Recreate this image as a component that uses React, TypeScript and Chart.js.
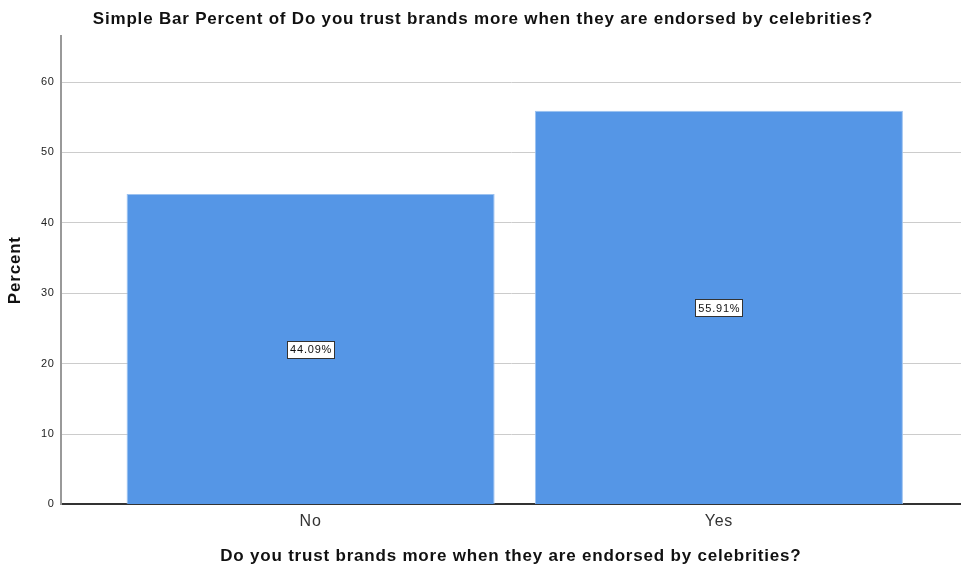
import React, { useEffect, useRef } from "react";
import { Chart, registerables } from "chart.js";

Chart.register(...registerables);

const categories = ["No", "Yes"];
const percents = [44.09, 55.91];
const percentLabels = ["44.09%", "55.91%"];
const yTicks = [0, 10, 20, 30, 40, 50, 60];

const FONT = "Arial, 'Liberation Sans', sans-serif";
const SPACING = "0.8px";

const spacingPlugin = {
  id: "letterSpacing",
  beforeUpdate(chart: any) {
    (chart.ctx as any).letterSpacing = SPACING;
  },
  beforeLayout(chart: any) {
    (chart.ctx as any).letterSpacing = SPACING;
  },
  beforeDraw(chart: any) {
    (chart.ctx as any).letterSpacing = SPACING;
  },
};

const labelPlugin = {
  id: "boxLabels",
  afterDatasetsDraw(chart: any) {
    const { ctx } = chart;
    const meta = chart.getDatasetMeta(0);
    const yScale = chart.scales.y;
    ctx.save();
    (ctx as any).letterSpacing = SPACING;
    ctx.font = `11px ${FONT}`;
    ctx.textAlign = "center";
    ctx.textBaseline = "middle";
    meta.data.forEach((bar: any, i: number) => {
      const txt = percentLabels[i];
      const cx = bar.x;
      const cy = yScale.getPixelForValue(percents[i] / 2);
      const w = Math.round(ctx.measureText(txt).width + 5);
      const h = 17;
      const x0 = Math.round(cx - w / 2) + 0.5;
      const y0 = Math.round(cy - h / 2) + 0.5;
      ctx.fillStyle = "#ffffff";
      ctx.fillRect(x0, y0, w, h);
      ctx.strokeStyle = "#333333";
      ctx.lineWidth = 1;
      ctx.strokeRect(x0, y0, w, h);
      ctx.fillStyle = "#111111";
      ctx.fillText(txt, cx + 0.5, cy + 1);
    });
    ctx.restore();
  },
};

export default function App() {
  const ref = useRef<HTMLCanvasElement>(null);
  useEffect(() => {
    if (!ref.current) return;
    const chart = new Chart(ref.current, {
      type: "bar",
      data: {
        datasets: [
          {
            data: categories.map((c, i) => ({ x: i + 1, y: percents[i] })),
            backgroundColor: "#5596e6",
            borderColor: "#9cc2f0",
            borderWidth: 1,
            barPercentage: 0.9015,
            categoryPercentage: 1,
          },
        ],
      },
      plugins: [spacingPlugin, labelPlugin],
      options: {
        animation: false,
        responsive: false,
        layout: { padding: { left: 5, right: 0, top: 0, bottom: 0 } },
        plugins: {
          legend: { display: false },
          tooltip: { enabled: false },
          title: {
            display: true,
            text: "Simple Bar Percent of Do you trust brands more when they are endorsed by celebrities?",
            font: { family: FONT, size: 17, weight: "bold" },
            color: "#111111",
            padding: { top: 9.5, bottom: 6 },
          },
        },
        scales: {
          x: {
            type: "linear",
            offset: false,
            bounds: "data",
            min: 0.388,
            max: 2.593,
            grid: { display: false, drawTicks: false },
            border: { display: true, color: "#333333", width: 2 },
            afterBuildTicks: (scale: any) => {
              scale.ticks = categories.map((_, i) => ({ value: i + 1 }));
            },
            ticks: {
              autoSkip: false,
              maxRotation: 0,
              padding: 8,
              color: "#333333",
              font: { family: FONT, size: 16 },
              callback: (v: any) => categories[Math.round(Number(v)) - 1] ?? "",
            },
            title: {
              display: true,
              text: "Do you trust brands more when they are endorsed by celebrities?",
              font: { family: FONT, size: 17, weight: "bold" },
              color: "#111111",
              padding: { top: 7, bottom: 4 },
            },
          },
          y: {
            type: "linear",
            min: 0,
            max: 66.55,
            afterBuildTicks: (scale: any) => {
              scale.ticks = yTicks.map((v) => ({ value: v }));
            },
            grid: { color: "#cccccc", lineWidth: 1, drawTicks: false },
            border: { display: true, color: "#999999", width: 2 },
            ticks: {
              padding: 6,
              color: "#222222",
              font: { family: FONT, size: 11 },
            },
            title: {
              display: true,
              text: "Percent",
              font: { family: FONT, size: 17, weight: "bold" },
              color: "#111111",
              padding: { top: 0, bottom: 9.5 },
            },
          },
        },
      },
    });
    return () => chart.destroy();
  }, []);
  return (
    <div style={{ position: "fixed", left: 0, top: 0, width: 961, height: 571, background: "#fff" }}>
      <canvas ref={ref} width={961} height={571} style={{ display: "block", width: 961, height: 571 }} />
    </div>
  );
}
